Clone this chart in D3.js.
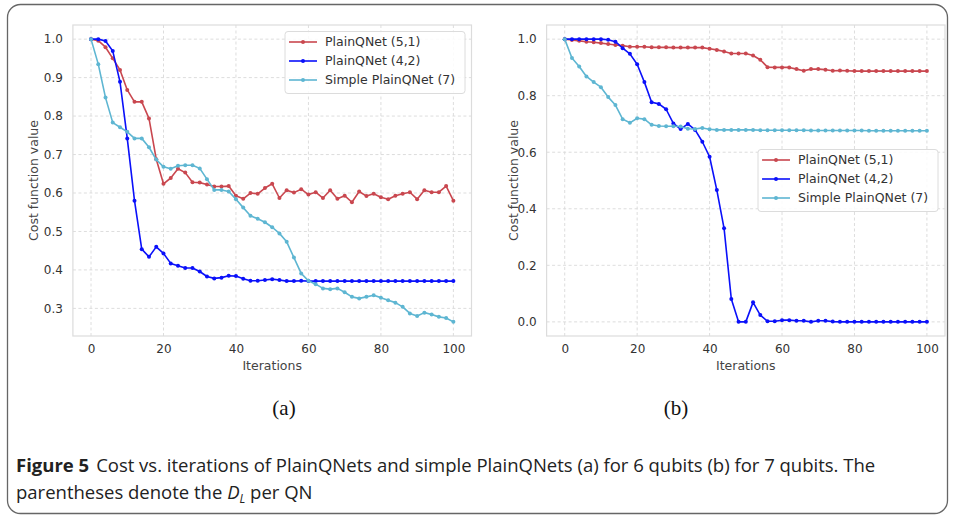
<!DOCTYPE html>
<html><head><meta charset="utf-8">
<script src="https://cdn.jsdelivr.net/npm/d3@7/dist/d3.min.js"></script>
<style>
html,body{margin:0;padding:0;background:#fff;}
</style></head>
<body><svg id="c" width="955" height="516" style="font-family:'DejaVu Sans',sans-serif"></svg>
<script>
// ---- data ----
const iterations = d3.range(0, 101, 2);
const seriesNames = ["PlainQNet (5,1)", "PlainQNet (4,2)", "Simple PlainQNet (7)"];
const seriesColors = ["#c9474f", "#0a10fa", "#5eb6d2"];

// panel (a): 6 qubits
const a_red = [1.0,0.996,0.979,0.950,0.920,0.868,0.837,0.837,0.794,0.688,0.624,0.639,0.663,0.653,0.628,0.627,0.622,0.617,0.617,0.618,0.593,0.585,0.600,0.598,0.613,0.624,0.587,0.607,0.601,0.610,0.596,0.602,0.587,0.607,0.585,0.593,0.576,0.604,0.592,0.598,0.589,0.584,0.593,0.598,0.602,0.584,0.607,0.602,0.602,0.618,0.580];
const a_blue = [1.0,1.0,0.995,0.969,0.889,0.742,0.580,0.454,0.434,0.460,0.443,0.417,0.411,0.405,0.405,0.396,0.383,0.378,0.380,0.385,0.384,0.377,0.372,0.372,0.374,0.376,0.374,0.371,0.371,0.372,0.371,0.371,0.371,0.371,0.371,0.371,0.371,0.371,0.371,0.371,0.371,0.371,0.371,0.371,0.371,0.371,0.371,0.371,0.371,0.371,0.371];
const a_cyan = [1.0,0.935,0.848,0.783,0.771,0.759,0.742,0.742,0.719,0.687,0.668,0.663,0.671,0.672,0.672,0.664,0.636,0.608,0.608,0.604,0.584,0.562,0.541,0.533,0.524,0.511,0.495,0.473,0.432,0.391,0.372,0.363,0.352,0.350,0.352,0.342,0.330,0.326,0.330,0.334,0.328,0.321,0.315,0.304,0.287,0.280,0.289,0.284,0.278,0.275,0.265];

// panel (b): 7 qubits
const b_red = [1.0,0.997,0.994,0.991,0.989,0.986,0.983,0.979,0.977,0.973,0.973,0.973,0.971,0.971,0.971,0.970,0.970,0.970,0.970,0.970,0.966,0.962,0.956,0.949,0.949,0.949,0.942,0.927,0.901,0.900,0.900,0.900,0.894,0.888,0.894,0.894,0.892,0.888,0.889,0.888,0.887,0.887,0.887,0.887,0.887,0.887,0.887,0.887,0.887,0.887,0.887];
const b_blue = [1.0,1.0,1.0,1.0,1.0,1.0,0.998,0.991,0.968,0.948,0.911,0.848,0.777,0.771,0.752,0.702,0.682,0.700,0.679,0.637,0.584,0.466,0.331,0.081,0.0,0.0,0.069,0.024,0.002,0.002,0.006,0.006,0.004,0.004,0.0,0.004,0.004,0.001,0.0,0.0,0.0,0.0,0.0,0.0,0.0,0.0,0.0,0.0,0.0,0.0,0.0];
const b_cyan = [1.0,0.933,0.903,0.868,0.848,0.830,0.795,0.767,0.717,0.704,0.720,0.717,0.697,0.693,0.692,0.692,0.691,0.683,0.682,0.686,0.681,0.679,0.679,0.679,0.679,0.679,0.679,0.678,0.678,0.678,0.678,0.678,0.678,0.678,0.677,0.677,0.677,0.677,0.677,0.677,0.677,0.677,0.676,0.676,0.676,0.676,0.676,0.676,0.676,0.676,0.676];

const xTicks = [0, 20, 40, 60, 80, 100];
const a_yTicks = [0.3, 0.4, 0.5, 0.6, 0.7, 0.8, 0.9, 1.0];
const b_yTicks = [0.0, 0.2, 0.4, 0.6, 0.8, 1.0];
const xLabel = "Iterations";
const yLabel = "Cost function value";
const panelLabels = ["(a)", "(b)"];

// ---- drawing ----
const svg = d3.select("#c");
svg.append("rect").attr("width",955).attr("height",516).attr("fill","#fff");
svg.append("rect").attr("x",7.5).attr("y",4.5).attr("width",940).attr("height",509)
  .attr("rx",13).attr("fill","none").attr("stroke","#666").attr("stroke-width",1.3);

function pad(ext){const d=(ext[1]-ext[0])*0.05;return [ext[0]-d, ext[1]+d];}

function panel(opt){
  const g = svg.append("g");
  const all = opt.series.flat();
  const x = d3.scaleLinear().domain(pad([0,100])).range([opt.left, opt.right]);
  const y = d3.scaleLinear().domain(pad(d3.extent(all))).range([336, 25]);
  // grid
  const grid = g.append("g").attr("stroke","#d9d9d9").attr("stroke-width",0.9).attr("stroke-dasharray","3,2.5");
  xTicks.forEach(t=>grid.append("line").attr("x1",x(t)).attr("x2",x(t)).attr("y1",25).attr("y2",336));
  opt.yTicks.forEach(t=>grid.append("line").attr("x1",opt.left).attr("x2",opt.right).attr("y1",y(t)).attr("y2",y(t)));
  // axes via d3
  const xa = g.append("g").attr("transform","translate(0,336)")
    .call(d3.axisBottom(x).tickValues(xTicks).tickFormat(d3.format("d")).tickSize(0).tickPadding(8));
  const ya = g.append("g").attr("transform",`translate(${opt.left},0)`)
    .call(d3.axisLeft(y).tickValues(opt.yTicks).tickFormat(d3.format(".1f")).tickSize(0).tickPadding(10));
  [xa,ya].forEach(a=>{a.select(".domain").remove();
    a.selectAll("text").attr("fill","#333").style("font-size","12px").style("font-family","'DejaVu Sans'");});
  g.append("rect").attr("x",opt.left).attr("y",25).attr("width",opt.right-opt.left).attr("height",311)
    .attr("fill","none").attr("stroke","#dcdcdc").attr("stroke-width",1.2);
  // labels
  g.append("text").attr("x",(opt.left+opt.right)/2).attr("y",370).attr("text-anchor","middle")
    .style("font-size","12.5px").attr("fill","#444").text(xLabel);
  g.append("text").attr("transform",`translate(${opt.ylabX},${(25+336)/2}) rotate(-90)`).attr("text-anchor","middle")
    .attr("dy","0.35em").style("font-size","12.5px").attr("fill","#444").text(yLabel);
  // lines
  const line = d3.line().x((d,i)=>x(iterations[i])).y(d=>y(d));
  opt.series.forEach((s,k)=>{
    g.append("path").datum(s).attr("d",line).attr("fill","none")
      .attr("stroke",seriesColors[k]).attr("stroke-width",1.6).attr("stroke-linejoin","round");
    g.append("g").selectAll("circle").data(s).join("circle")
      .attr("cx",(d,i)=>x(iterations[i])).attr("cy",d=>y(d)).attr("r",2).attr("fill",seriesColors[k]);
  });
  // legend
  const L = opt.legend;
  const lg = g.append("g").attr("transform",`translate(${L.x},${L.y})`);
  lg.append("rect").attr("width",180).attr("height",62).attr("rx",3)
    .attr("fill","#fff").attr("fill-opacity",0.85).attr("stroke","#dcdcdc");
  seriesNames.forEach((n,k)=>{
    const cy = 10.5 + k*19;
    lg.append("line").attr("x1",4).attr("x2",32).attr("y1",cy).attr("y2",cy)
      .attr("stroke",seriesColors[k]).attr("stroke-width",1.6);
    lg.append("circle").attr("cx",18).attr("cy",cy).attr("r",2).attr("fill",seriesColors[k]);
    lg.append("text").attr("x",40).attr("y",cy).attr("dy","0.35em").style("font-size","12.5px")
      .attr("fill","#333").text(n);
  });
  // panel label
  svg.append("text").attr("x",opt.labX).attr("y",415).attr("text-anchor","middle")
    .style("font-family","'Liberation Serif','DejaVu Serif',serif").style("font-size","21px").attr("fill","#111")
    .text(opt.label);
}

panel({series:[a_red,a_blue,a_cyan], yTicks:a_yTicks, left:72.9, right:471.5, ylabX:34,
       legend:{x:285,y:31.5}, label:panelLabels[0], labX:284});
panel({series:[b_red,b_blue,b_cyan], yTicks:b_yTicks, left:546.6, right:945, ylabX:514,
       legend:{x:758,y:149.5}, label:panelLabels[1], labX:676});

// caption
const capFont = "'Open Sans',sans-serif";
const cap = svg.append("text").attr("x",16).attr("y",472)
  .style("font-family",capFont).style("font-size","18.5px").attr("fill","#222");
cap.append("tspan").style("font-weight","bold").text("Figure 5");
cap.append("tspan").attr("dx",7).text("Cost vs. iterations of PlainQNets and simple PlainQNets (a) for 6 qubits (b) for 7 qubits. The");
const cap2 = svg.append("text").attr("x",16).attr("y",499)
  .style("font-family",capFont).style("font-size","18.5px").attr("fill","#222");
cap2.append("tspan").text("parentheses denote the ");
cap2.append("tspan").style("font-style","italic").text("D");
cap2.append("tspan").style("font-style","italic").style("font-size","12px").attr("dy",4).text("L");
cap2.append("tspan").attr("dy",-4).text(" per QN");
</script></body></html>
